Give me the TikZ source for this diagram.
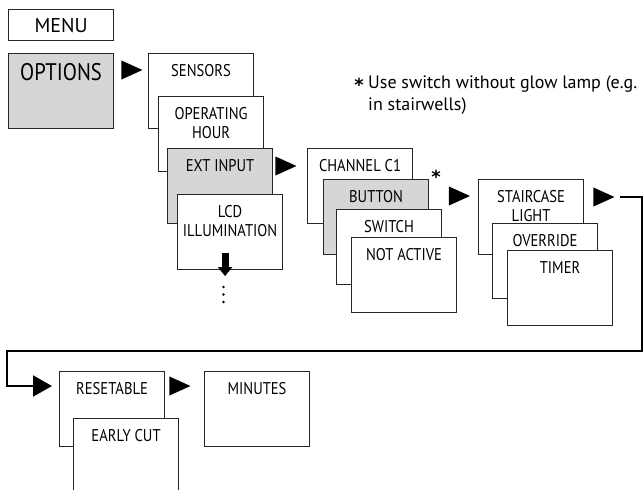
\documentclass[tikz,border=0pt]{standalone}
\usepackage{fontspec}
\setmainfont{PT Sans}[FakeStretch=0.86]
\newfontfamily\notefont{PT Sans}
\newfontfamily\starfont{DejaVu Sans}
\usetikzlibrary{shapes.geometric,arrows.meta}
\definecolor{selgray}{gray}{0.84}
\definecolor{boxline}{gray}{0.15}

\begin{document}
\begin{tikzpicture} [
  x=1pt, y=-1pt,
  every node/.style={inner sep=0},
  menubox/.style={rectangle,draw=boxline,line width=1.1pt,fill=white,minimum width=105,minimum height=75,anchor=north west},
  selbox/.style={menubox,fill=selgray},
  boxtext/.style={anchor=north,align=center,yshift=-11pt,font=\fontsize{17}{19.5}\selectfont},
  startext/.style={anchor=base,font=\starfont\bfseries\fontsize{18}{20}\selectfont},
  tri/.style={isosceles triangle,isosceles triangle stretches,fill=black,minimum width=19,minimum height=21,anchor=apex},
  link/.style={line width=2pt,-{Triangle[length=19pt,width=21pt]}},
  downarr/.style={line width=7pt,-{Triangle[length=9pt,width=14pt]}}
  ]
  \useasboundingbox (0,0) rectangle (643,490);

  % first column
  \node (menu) [menubox,minimum height=31,font=\notefont\fontsize{20}{24}\selectfont] at (8,9) {MENU};
  \node (options) [selbox,label={[boxtext,yshift=1pt,font=\fontsize{24}{28}\selectfont]north:OPTIONS}] at (8,53) {};
  \node (t1) [tri] at (143,70) {};

  % options
  \node (sens) [menubox,label={[boxtext]north:SENSORS}] at (148,53) {};
  \node (ophour) [menubox,label={[boxtext]north:{OPERATING\\HOUR}}] at (158,96) {};
  \node (extin) [selbox,label={[boxtext]north:EXT INPUT}] at (167,148) {};
  \node (lcd) [menubox,label={[boxtext]north:{LCD\\ILLUMINATION}}] at (177,194) {};
  \draw[downarr] ([xshift=-5pt,yshift=17pt]lcd.south) -- ([xshift=-5pt,yshift=-6pt]lcd.south);
  \foreach \dy in {287,294.5,302}
    \fill (223.5,\dy) circle (1.3pt);
  \node (t2) [tri] at (297,166) {};

  % ext input
  \node (chan) [menubox,label={[boxtext]north:CHANNEL C1}] at (307,148) {};
  \node (button) [selbox,label={[boxtext]north:BUTTON}] at (323,179) {};
  \node (switch) [menubox,label={[boxtext]north:SWITCH}] at (336,209) {};
  \node (notact) [menubox,label={[boxtext]north:NOT ACTIVE}] at (351,237) {};
  \node (bstar) [startext] at (436,183.5) {*};
  \node (t3) [tri] at (470.5,196) {};

  % button
  \node (stair) [menubox,label={[boxtext]north:{STAIRCASE\\LIGHT}}] at (478,179) {};
  \node (overr) [menubox,label={[boxtext]north:OVERRIDE}] at (492,223) {};
  \node (timer) [menubox,label={[boxtext]north:TIMER}] at (507,250) {};
  \node (t4) [tri] at (615,197) {};

  % note
  \node (star) [startext] at (359,91) {*};
  \node (note) [anchor=base west,align=left,font=\notefont\fontsize{18}{22.5}\selectfont] at (368,110.5)
    {Use switch without glow lamp (e.g.\\in stairwells)};

  % staircase light
  \coordinate (loopin) at (52,386);
  \draw[link] ([xshift=5pt]t4.east) -| (642,351) -| (7,386) -- (loopin);
  \node (reset) [menubox,label={[boxtext]north:RESETABLE}] at (59,371) {};
  \node (early) [menubox,label={[boxtext]north:EARLY CUT}] at (73,418) {};
  \node (t6) [tri] at (191,386) {};
  \node (minutes) [menubox,label={[boxtext]north:MINUTES}] at (204,371) {};
\end{tikzpicture}
\end{document}
